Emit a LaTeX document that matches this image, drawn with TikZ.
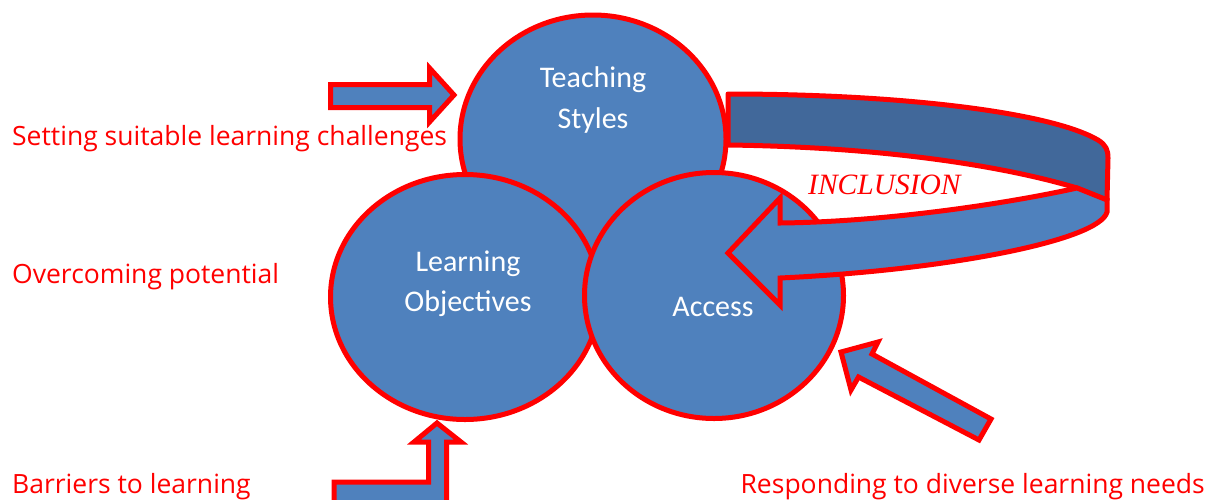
\documentclass[tikz,border=0pt]{standalone}
\usepackage{fontspec}
\setmainfont{Carlito}
\newfontfamily\handfont{Open Sans}
\newfontfamily\timesit{Liberation Serif}
\usetikzlibrary{shapes.geometric}
\definecolor{bubblue}{HTML}{4F81BD}
\definecolor{bandblue}{HTML}{41689A}
\begin{document}
\begin{tikzpicture}[x=1pt, y=-1pt,
    bubble/.style={ellipse, draw=red, line width=5pt, fill=bubblue, inner sep=0pt},
    bubtext/.style={text=white, font=\fontsize{30}{34}\selectfont, anchor=base, inner sep=0pt},
    sidetext/.style={text=red, font=\handfont\fontsize{26.5}{32}\selectfont, anchor=base west, inner sep=0pt},
    blockarrow/.style={draw=red, line width=5pt, fill=bubblue, line join=miter}]
  \useasboundingbox (0,0) rectangle (1213,499);
  % the three circles
  \node[bubble, minimum width=266pt, minimum height=248pt] (teach) at (593,139) {};
  \node[bubble, minimum width=269pt, minimum height=245pt] (objectives) at (465,297) {};
  \node[bubble, minimum width=259pt, minimum height=246pt] (access) at (714,295.5) {};
  \node[bubtext] (teach1) at (593,87) {Teaching};
  \node[bubtext] (teach2) at (593,128) {Styles};
  \node[bubtext] (obj1) at (468,271) {Learning};
  \node[bubtext] (obj2) at (468,311) {Objectives};
  \node[bubtext] (acc1) at (713,316) {Access};
  % inclusion ring, back part then front part with head
  \draw[blockarrow, fill=bandblue, line join=round] (728,94) .. controls (900,94) and (1050,112) .. (1098,140)
    .. controls (1106,145) and (1108,150) .. (1108,158) -- (1107,200) -- (1077,188)
    .. controls (1000,165) and (880,147) .. (728,145) -- cycle;
  \draw[blockarrow] (1077,188) .. controls (1000,205) and (880,222) .. (780,223)
    -- (780,198) -- (728,253) -- (780,305) -- (780,278)
    .. controls (950,270) and (1100,240) .. (1107,212) -- (1107,200) -- cycle;
  \node[text=red, font=\timesit\itshape\fontsize{29.5}{34}\selectfont, anchor=base west, inner sep=0pt] (incl) at (808,194) {INCLUSION};
  % block arrows
  \draw[blockarrow] (330.5,84.5) -- (429.5,84.5) -- (429.5,68) -- (454,95) -- (429.5,122) -- (429.5,107.5) -- (330.5,107.5) -- cycle;
  \draw[blockarrow] (334,482) -- (428.5,482) -- (428.5,442) -- (414,442) -- (437,423) -- (461,442) -- (446.5,442) -- (446.5,505) -- (334,505) -- cycle;
  \draw[blockarrow] (841,352) -- (878,342) -- (872,354) -- (991,419) -- (979,440) -- (858.5,377) -- (851,390) -- cycle;
  % side labels
  \node[sidetext] (challenges) at (12,145) {Setting suitable learning challenges};
  \node[sidetext] (potential) at (12,283) {Overcoming potential};
  \node[sidetext] (barriers) at (12,493) {Barriers to learning};
  \node[sidetext, anchor=base east] (needs) at (1205,493) {Responding to diverse learning needs};
\end{tikzpicture}
\end{document}
